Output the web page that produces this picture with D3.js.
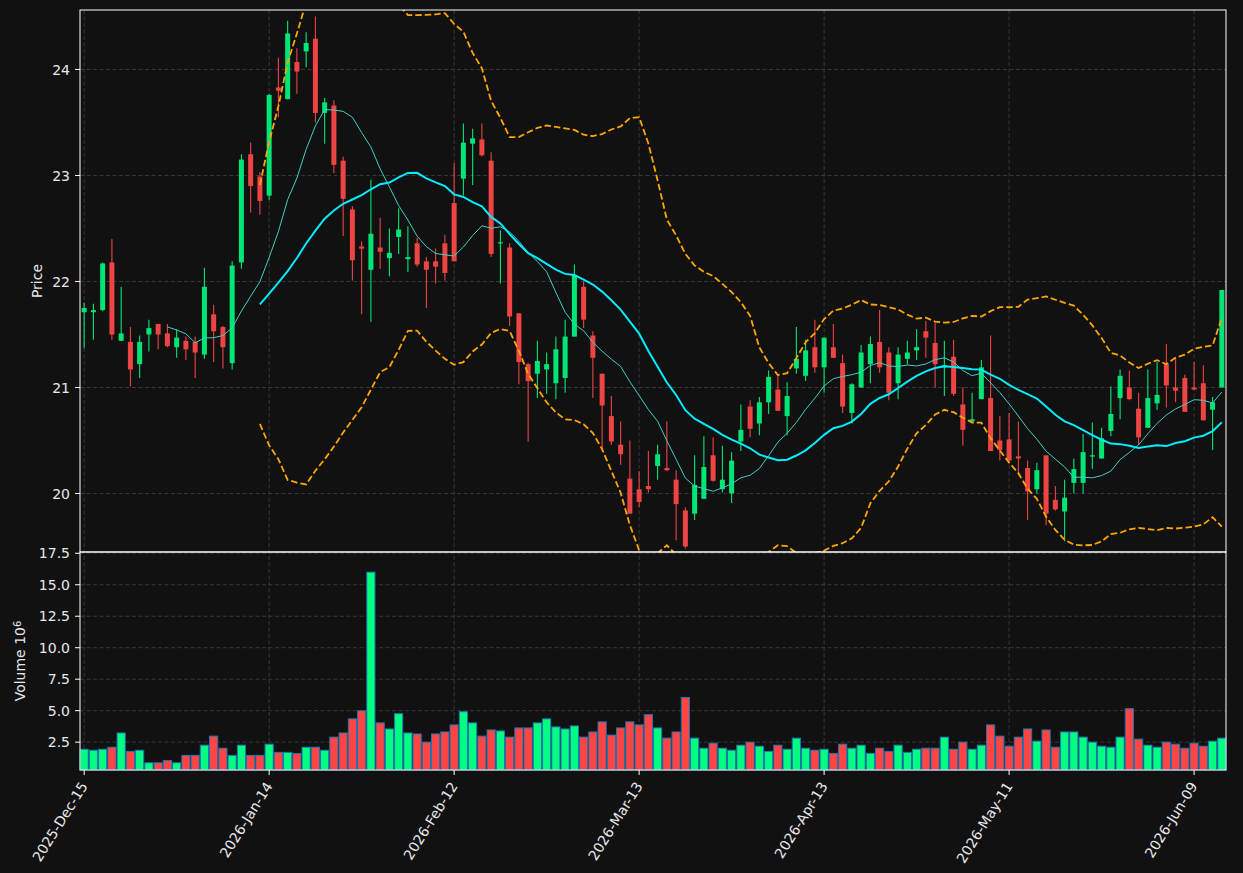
<!DOCTYPE html>
<html>
<head>
<meta charset="utf-8">
<script src="https://cdn.jsdelivr.net/npm/d3@7"></script>
<style>
  body { margin: 0; background: #111111; }
  svg { display: block; font-family: "DejaVu Sans", sans-serif; }
</style>
</head>
<body>
<div id="chart"></div>
<script>
const width = 1243;
const height = 873;
const left = 80, right = 1226;
const priceTop = 10, priceBottom = 552;
const volTop = 552, volBottom = 770;

// trading days
const dates = [
  "2025-12-15","2025-12-16","2025-12-17","2025-12-18","2025-12-19","2025-12-22","2025-12-23","2025-12-24","2025-12-26","2025-12-29",
  "2025-12-30","2025-12-31","2026-01-02","2026-01-05","2026-01-06","2026-01-07","2026-01-08","2026-01-09","2026-01-12","2026-01-13",
  "2026-01-14","2026-01-15","2026-01-16","2026-01-20","2026-01-21","2026-01-22","2026-01-23","2026-01-26","2026-01-27","2026-01-28",
  "2026-01-29","2026-01-30","2026-02-02","2026-02-03","2026-02-04","2026-02-05","2026-02-06","2026-02-09","2026-02-10","2026-02-11",
  "2026-02-12","2026-02-13","2026-02-17","2026-02-18","2026-02-19","2026-02-20","2026-02-23","2026-02-24","2026-02-25","2026-02-26",
  "2026-02-27","2026-03-02","2026-03-03","2026-03-04","2026-03-05","2026-03-06","2026-03-09","2026-03-10","2026-03-11","2026-03-12",
  "2026-03-13","2026-03-16","2026-03-17","2026-03-18","2026-03-19","2026-03-20","2026-03-23","2026-03-24","2026-03-25","2026-03-26",
  "2026-03-27","2026-03-30","2026-03-31","2026-04-01","2026-04-02","2026-04-06","2026-04-07","2026-04-08","2026-04-09","2026-04-10",
  "2026-04-13","2026-04-14","2026-04-15","2026-04-16","2026-04-17","2026-04-20","2026-04-21","2026-04-22","2026-04-23","2026-04-24",
  "2026-04-27","2026-04-28","2026-04-29","2026-04-30","2026-05-01","2026-05-04","2026-05-05","2026-05-06","2026-05-07","2026-05-08",
  "2026-05-11","2026-05-12","2026-05-13","2026-05-14","2026-05-15","2026-05-18","2026-05-19","2026-05-20","2026-05-21","2026-05-22",
  "2026-05-26","2026-05-27","2026-05-28","2026-05-29","2026-06-01","2026-06-02","2026-06-03","2026-06-04","2026-06-05","2026-06-08",
  "2026-06-09","2026-06-10","2026-06-11","2026-06-12"
];

const opens = [
  21.71,21.71,21.73,22.18,21.44,21.43,21.22,21.50,21.60,21.51,
  21.38,21.44,21.43,21.31,21.69,21.57,21.23,22.18,23.20,22.99,
  22.81,23.83,23.72,24.07,24.17,24.29,23.59,23.66,23.14,22.68,
  22.33,22.11,22.32,22.22,22.42,22.21,22.36,22.19,22.19,22.36,
  22.74,22.97,23.30,23.34,23.14,22.36,22.32,21.70,21.22,21.13,
  21.17,21.04,21.09,21.48,21.95,21.49,21.13,20.73,20.46,20.14,
  20.04,20.07,20.26,20.24,20.13,19.84,19.81,19.95,20.36,20.04,
  20.00,20.49,20.82,20.66,20.86,20.98,20.73,21.18,21.11,21.38,
  21.19,21.38,21.23,20.76,21.00,21.22,21.43,21.33,21.04,21.27,
  21.35,21.53,21.42,21.19,21.29,20.84,20.68,20.89,20.90,20.50,
  20.51,20.35,20.24,20.04,20.36,19.94,19.83,20.10,20.10,20.35,
  20.33,20.59,20.90,21.00,20.80,20.62,20.85,21.22,21.00,21.09,
  21.00,21.04,20.79,21.00
];
const highs = [
  21.80,21.79,22.18,22.40,21.95,21.57,21.49,21.64,21.60,21.60,
  21.55,21.48,21.48,22.13,21.78,21.58,22.19,23.20,23.31,23.03,
  23.77,24.11,24.46,24.20,24.35,24.50,23.73,23.71,23.18,22.71,
  22.38,22.96,22.60,22.50,22.69,22.52,22.41,22.23,22.31,22.44,
  23.12,23.49,23.44,23.49,23.22,22.48,22.36,21.70,21.23,21.44,
  21.33,21.48,21.64,22.16,22.00,21.53,21.13,20.92,20.68,20.50,
  20.21,20.40,20.46,20.68,20.22,19.87,20.36,20.54,20.53,20.45,
  20.39,20.84,20.88,20.91,21.16,21.12,21.05,21.57,21.45,21.64,
  21.47,21.60,21.31,21.04,21.40,21.48,21.73,21.38,21.38,21.44,
  21.55,21.63,21.61,21.44,21.45,21.00,20.95,21.26,21.49,20.73,
  20.76,20.68,20.31,20.29,20.36,20.07,20.13,20.33,20.56,20.67,
  20.62,21.01,21.17,21.16,20.95,21.17,21.24,21.41,21.28,21.12,
  21.24,21.21,20.91,21.92
];
const lows = [
  21.37,21.45,21.72,21.45,21.44,21.01,21.09,21.34,21.36,21.38,
  21.28,21.26,21.09,21.27,21.24,21.18,21.17,22.12,22.65,22.63,
  22.77,23.55,23.72,23.77,24.02,23.50,23.30,23.02,22.43,22.01,
  21.69,21.62,22.12,22.05,22.26,22.09,22.14,21.75,21.98,22.01,
  22.19,22.81,22.91,23.18,22.23,21.98,21.58,21.03,20.49,20.90,
  20.94,20.89,20.95,21.48,21.56,20.90,20.40,20.46,20.27,19.81,
  19.87,20.01,20.13,20.21,19.56,19.48,19.75,19.95,20.11,20.01,
  19.91,20.40,20.53,20.55,20.75,20.78,20.55,21.13,21.06,21.14,
  20.95,21.28,20.76,20.66,21.00,21.04,21.14,20.88,20.89,21.22,
  21.26,21.28,21.00,20.92,20.92,20.45,20.68,20.89,20.40,20.31,
  20.31,20.17,19.75,20.00,19.70,19.84,19.55,20.00,20.00,20.23,
  20.33,20.54,20.70,20.88,20.46,20.62,20.79,20.81,20.86,20.77,
  20.98,20.69,20.41,21.00
];
const closes = [
  21.75,21.73,22.17,21.50,21.51,21.17,21.43,21.56,21.50,21.39,
  21.47,21.36,21.33,21.95,21.53,21.38,22.15,23.15,22.90,22.76,
  23.76,23.80,24.34,23.98,24.25,23.59,23.69,23.10,22.78,22.20,
  22.31,22.45,22.28,22.27,22.49,22.23,22.16,22.11,22.14,22.08,
  22.19,23.31,23.35,23.19,22.26,22.37,21.67,21.24,21.06,21.25,
  21.22,21.36,21.48,22.06,21.64,21.28,20.83,20.49,20.37,19.81,
  19.92,20.04,20.37,20.22,19.90,19.50,20.08,20.25,20.12,20.13,
  20.31,20.60,20.61,20.86,21.10,20.78,20.92,21.27,21.35,21.19,
  21.47,21.28,20.82,21.03,21.33,21.41,21.19,20.95,21.31,21.33,
  21.38,21.47,21.22,21.21,20.94,20.60,20.70,21.19,20.40,20.41,
  20.31,20.33,20.02,20.22,19.81,19.85,19.96,20.23,20.39,20.36,
  20.52,20.75,21.11,20.89,20.53,20.90,20.93,21.02,20.97,20.77,
  20.98,20.69,20.86,21.92
];
// volume in millions
const volumes = [
  1.94,1.86,1.94,2.10,3.23,1.77,1.86,0.86,0.86,1.05,
  0.86,1.45,1.45,2.26,2.98,2.02,1.45,2.26,1.45,1.45,
  2.34,1.69,1.69,1.61,2.10,2.10,1.86,2.90,3.23,4.35,
  4.99,16.0,4.03,3.55,4.76,3.23,3.15,2.50,3.15,3.31,
  3.87,4.92,4.03,2.98,3.47,3.39,2.90,3.63,3.63,4.03,
  4.35,3.71,3.55,3.79,2.90,3.31,4.11,3.06,3.63,4.11,
  3.87,4.68,3.63,2.82,3.31,6.05,2.82,2.02,2.42,2.02,
  1.86,2.26,2.50,2.18,1.77,2.26,1.94,2.82,2.02,1.86,
  1.94,1.61,2.34,2.02,2.26,1.61,2.02,1.77,2.26,1.69,
  1.94,2.02,2.02,2.90,1.94,2.50,1.94,2.26,3.87,2.98,
  2.18,2.90,3.55,2.58,3.47,2.10,3.31,3.31,2.90,2.50,
  2.18,2.10,2.90,5.16,2.74,2.26,2.10,2.50,2.34,2.02,
  2.42,2.18,2.58,2.82
];

const tickIdx = [0, 20, 40, 60, 80, 100, 120];
const priceTicks = [20, 21, 22, 23, 24];
const volTicks = [2.5, 5.0, 7.5, 10.0, 12.5, 15.0, 17.5];

const upCandle = "#00e676", downCandle = "#ef4444";
const upVol = "#00ff80", downVol = "#ff4444";
const gridColor = "#3c3c3c";
const textColor = "#e8e8e8";
const fontSize = "14px";

// moving averages and bands from the closes
function sma(arr, n) {
  return arr.map((_, i) => i < n - 1 ? null : d3.mean(arr.slice(i - n + 1, i + 1)));
}
function rollStd(arr, n) {
  return arr.map((_, i) => i < n - 1 ? null : d3.deviation(arr.slice(i - n + 1, i + 1)));
}
const ma10 = sma(closes, 10);
const ma20 = sma(closes, 20);
const sd20 = rollStd(closes, 20);
const bbUp = ma20.map((m, i) => m === null ? null : m + 2 * sd20[i]);
const bbLo = ma20.map((m, i) => m === null ? null : m - 2 * sd20[i]);

const svg = d3.select("#chart")
  .append("svg")
  .attr("width", width)
  .attr("height", height);

svg.append("rect").attr("width", width).attr("height", height).attr("fill", "#111111");

const x = d3.scaleLinear().domain([-0.45, dates.length - 0.55]).range([left, right]);
const y = d3.scaleLinear().domain([19.448, 24.561]).range([priceBottom, priceTop]);
const yv = d3.scaleLinear().domain([0.29, 1.1 * d3.max(volumes)]).range([volBottom, volTop]);
const step = x(1) - x(0);

svg.append("defs").append("clipPath").attr("id", "clipPrice")
  .append("rect").attr("x", left).attr("y", priceTop)
  .attr("width", right - left).attr("height", priceBottom - priceTop);

// grids
const grid = svg.append("g").attr("stroke", gridColor).attr("stroke-width", 0.9)
  .attr("stroke-dasharray", "4,2.5");
tickIdx.forEach(t => {
  grid.append("line").attr("x1", x(t)).attr("x2", x(t)).attr("y1", priceTop).attr("y2", volBottom);
});
priceTicks.forEach(t => {
  grid.append("line").attr("x1", left).attr("x2", right).attr("y1", y(t)).attr("y2", y(t));
});
volTicks.forEach(t => {
  grid.append("line").attr("x1", left).attr("x2", right).attr("y1", yv(t)).attr("y2", yv(t));
});

// candles
const candles = svg.append("g").attr("clip-path", "url(#clipPrice)");
const idx = d3.range(dates.length);
candles.selectAll("line.wick")
  .data(idx)
  .join("line")
  .attr("class", "wick")
  .attr("x1", i => x(i)).attr("x2", i => x(i))
  .attr("y1", i => y(highs[i])).attr("y2", i => y(lows[i]))
  .attr("stroke", i => closes[i] >= opens[i] ? upCandle : downCandle)
  .attr("stroke-width", 1.1);

candles.selectAll("rect.body")
  .data(idx)
  .join("rect")
  .attr("class", "body")
  .attr("x", i => x(i) - step * 0.27)
  .attr("width", step * 0.54)
  .attr("y", i => y(Math.max(opens[i], closes[i])))
  .attr("height", i => Math.max(1.2, Math.abs(y(opens[i]) - y(closes[i]))))
  .attr("fill", i => closes[i] >= opens[i] ? upCandle : downCandle);

// indicator lines
const lineGen = arr => d3.line()
  .defined(i => arr[i] !== null)
  .x(i => x(i))
  .y(i => y(arr[i]))(idx);

const lines = svg.append("g").attr("clip-path", "url(#clipPrice)").attr("fill", "none");
lines.append("path").attr("d", lineGen(bbUp))
  .attr("stroke", "#ffa500").attr("stroke-width", 1.8).attr("stroke-dasharray", "6.5,3");
lines.append("path").attr("d", lineGen(bbLo))
  .attr("stroke", "#ffa500").attr("stroke-width", 1.8).attr("stroke-dasharray", "6.5,3");
lines.append("path").attr("d", lineGen(ma10))
  .attr("stroke", "#3fd0c4").attr("stroke-width", 1);
lines.append("path").attr("d", lineGen(ma20))
  .attr("stroke", "#00eeff").attr("stroke-width", 2);

// volume bars
svg.append("g").selectAll("rect")
  .data(idx)
  .join("rect")
  .attr("x", i => x(i) - step * 0.44)
  .attr("width", step * 0.88)
  .attr("y", i => yv(volumes[i]))
  .attr("height", i => volBottom - yv(volumes[i]))
  .attr("fill", i => closes[i] >= opens[i] ? upVol : downVol)
  .attr("stroke", "#1f77b4")
  .attr("stroke-width", 1);

// frames
const frame = svg.append("g").attr("fill", "none").attr("stroke", "#ffffff").attr("stroke-width", 1);
frame.append("rect").attr("x", left).attr("y", priceTop).attr("width", right - left).attr("height", priceBottom - priceTop);
frame.append("rect").attr("x", left).attr("y", volTop).attr("width", right - left).attr("height", volBottom - volTop);

// axes
const fmt = d3.timeFormat("%Y-%b-%d");
const parse = d3.timeParse("%Y-%m-%d");

const yAxis = svg.append("g");
priceTicks.forEach(t => {
  yAxis.append("line").attr("x1", left - 5).attr("x2", left).attr("y1", y(t)).attr("y2", y(t))
    .attr("stroke", "#ffffff");
  yAxis.append("text").attr("x", left - 10).attr("y", y(t)).attr("dy", "0.36em")
    .attr("text-anchor", "end").attr("fill", textColor).attr("font-size", fontSize).text(t);
});
volTicks.forEach(t => {
  yAxis.append("line").attr("x1", left - 5).attr("x2", left).attr("y1", yv(t)).attr("y2", yv(t))
    .attr("stroke", "#ffffff");
  yAxis.append("text").attr("x", left - 10).attr("y", yv(t)).attr("dy", "0.36em")
    .attr("text-anchor", "end").attr("fill", textColor).attr("font-size", fontSize).text(t.toFixed(1));
});

const xAxis = svg.append("g");
tickIdx.forEach(t => {
  xAxis.append("line").attr("x1", x(t)).attr("x2", x(t)).attr("y1", volBottom).attr("y2", volBottom + 5)
    .attr("stroke", "#ffffff");
  xAxis.append("text")
    .attr("transform", `translate(${x(t) + 4},${volBottom + 16}) rotate(-58)`)
    .attr("text-anchor", "end").attr("fill", textColor).attr("font-size", fontSize)
    .text(fmt(parse(dates[t])));
});

// axis labels
svg.append("text")
  .attr("transform", `translate(42,${(priceTop + priceBottom) / 2}) rotate(-90)`)
  .attr("text-anchor", "middle").attr("fill", textColor).attr("font-size", fontSize)
  .text("Price");

const vLabel = svg.append("text")
  .attr("transform", `translate(25,${(volTop + volBottom) / 2}) rotate(-90)`)
  .attr("text-anchor", "middle").attr("fill", textColor).attr("font-size", fontSize);
vLabel.append("tspan").text("Volume  10");
vLabel.append("tspan").attr("dy", "-0.45em").attr("font-size", "10px").text("6");
</script>
</body>
</html>
